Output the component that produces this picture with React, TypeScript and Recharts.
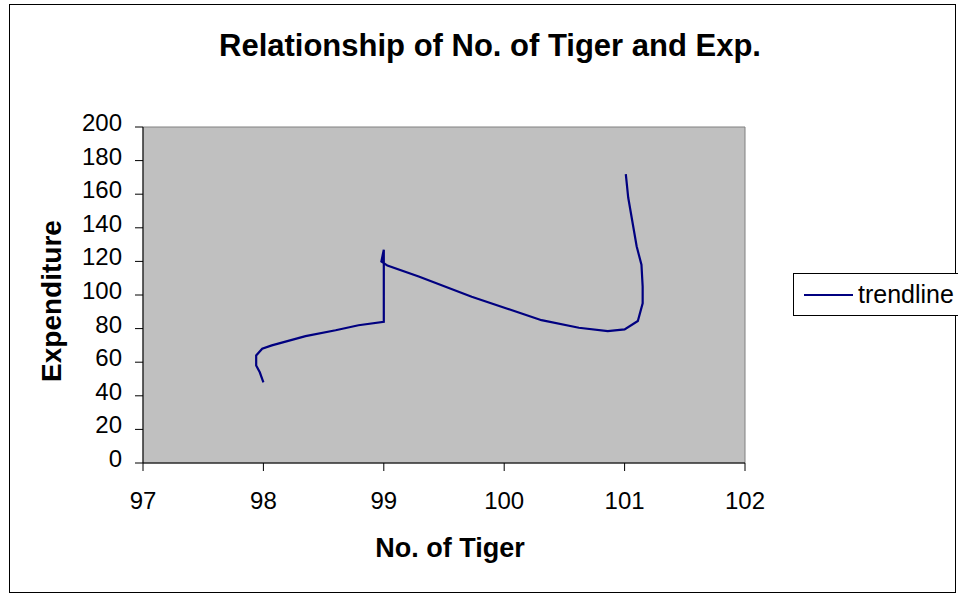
import { ScatterChart, Scatter, XAxis, YAxis, ReferenceArea } from 'recharts'

const tigers = [98.0, 97.97, 97.94, 97.94, 97.99, 98.07, 98.35, 98.6, 98.79, 99.0, 99.0, 98.98, 99.03, 99.29, 99.73, 100.31, 100.62, 100.86, 101.0, 101.11, 101.15, 101.15, 101.14, 101.1, 101.03, 101.01]
const expenditure = [48, 54, 58, 64, 68, 70, 75.5, 79, 82, 84, 127, 120, 117.5, 111, 99, 85, 80.5, 78.5, 79.5, 84.5, 95, 105, 118, 129, 158, 172]

const xTicks = [97, 98, 99, 100, 101, 102]
const yTicks = [0, 20, 40, 60, 80, 100, 120, 140, 160, 180, 200]

const FONT = '"Liberation Sans", Arial, sans-serif'
const LINE = '#000080'

const data = tigers.map((t, i) => ({ tiger: t, exp: expenditure[i] }))

function XTick({ x, y, payload }: any) {
  return (
    <text x={x} y={y + 36} textAnchor="middle" fontSize={24} fontFamily={FONT} fill="#000">
      {payload.value}
    </text>
  )
}

function YTick({ x, y, payload }: any) {
  return (
    <text x={x - 11} y={y + 4} textAnchor="end" fontSize={24} fontFamily={FONT} fill="#000">
      {payload.value}
    </text>
  )
}

function XLabel({ viewBox }: any) {
  const { x, y, width } = viewBox
  return (
    <text x={x + width / 2 + 6} y={y + 94} textAnchor="middle" fontSize={27} fontWeight="bold" fontFamily={FONT} fill="#000">
      No. of Tiger
    </text>
  )
}

function YLabel() {
  return (
    <text x={61} y={301} transform="rotate(-90 61 301)" textAnchor="middle" fontSize={28} fontWeight="bold" fontFamily={FONT} fill="#000">
      Expenditure
    </text>
  )
}

export default function App() {
  return (
    <div style={{ position: 'absolute', left: 0, top: 0, width: 958, height: 594, background: '#fff', fontFamily: FONT, overflow: 'hidden' }}>
      <div style={{ position: 'absolute', left: 9, top: 4, width: 945, height: 587, border: '1px solid #000' }} />
      <svg width={958} height={80} style={{ position: 'absolute', left: 0, top: 0 }}>
        <text x={490} y={56} textAnchor="middle" fontSize={31} fontWeight="bold" fontFamily={FONT} fill="#000">
          Relationship of No. of Tiger and Exp.
        </text>
      </svg>
      <div style={{ position: 'absolute', left: 0, top: 0 }}>
        <ScatterChart width={958} height={594} margin={{ top: 127, right: 213, bottom: 91, left: 83 }}>
          <ReferenceArea x1={97} x2={102} y1={0} y2={200} fill="#C0C0C0" fillOpacity={1} stroke="#808080" />
          <XAxis
            type="number"
            dataKey="tiger"
            domain={[97, 102]}
            ticks={xTicks}
            height={40}
            tickSize={8}
            stroke="#000"
            tick={<XTick />}
            label={<XLabel />}
          />
          <YAxis
            type="number"
            dataKey="exp"
            domain={[0, 200]}
            ticks={yTicks}
            width={60}
            tickSize={8}
            stroke="#000"
            tick={<YTick />}
            label={<YLabel />}
          />
          <Scatter
            data={data}
            line={{ stroke: LINE, strokeWidth: 2.2 }}
            shape={() => <g />}
            isAnimationActive={false}
          />
        </ScatterChart>
      </div>
      <div
        style={{
          position: 'absolute',
          left: 793,
          top: 273,
          width: 175,
          height: 41,
          border: '1px solid #000',
          background: '#fff',
          display: 'flex',
          alignItems: 'center',
        }}
      >
        <div style={{ width: 49, height: 2, background: LINE, marginLeft: 10, marginRight: 5 }} />
        <span style={{ fontSize: 25, color: '#000' }}>trendline</span>
      </div>
    </div>
  )
}
